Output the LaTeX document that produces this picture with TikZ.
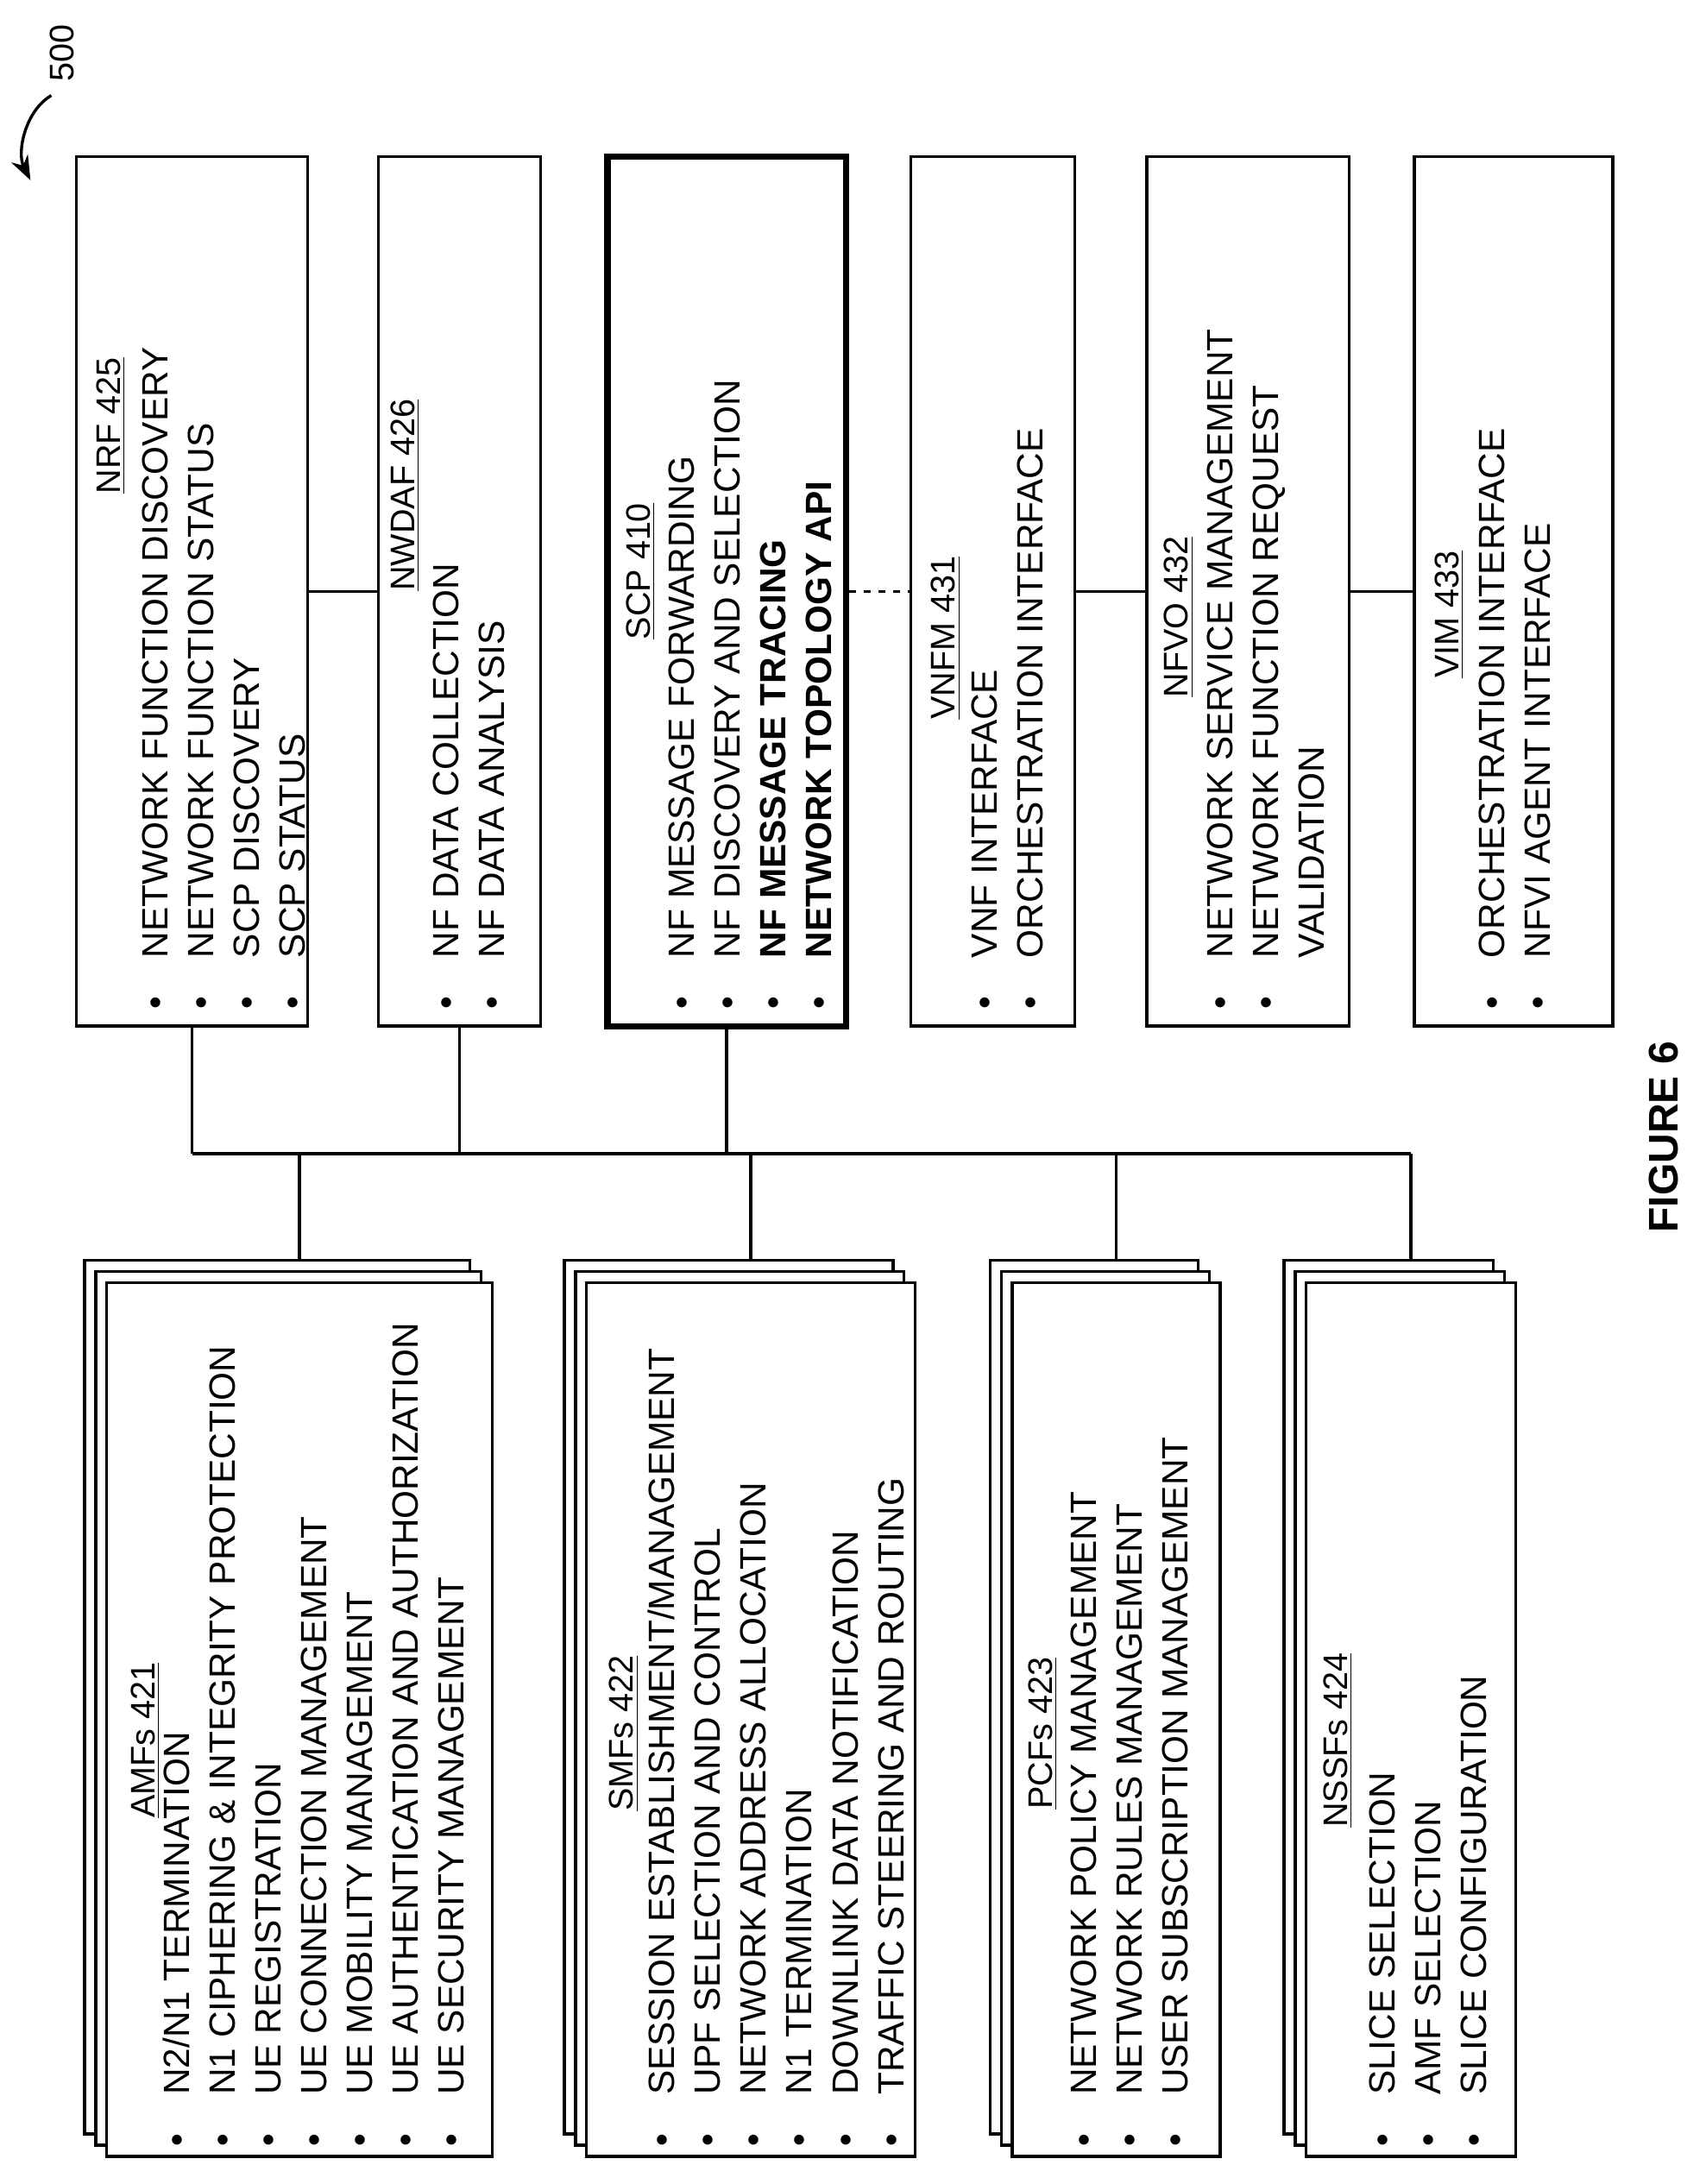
\documentclass[tikz,border=0pt]{standalone}
\usepackage{fontspec}
\setmainfont{Liberation Sans}
\usetikzlibrary{fit,arrows.meta}

\tikzstyle{box}=[draw, line width=1.2pt, fill=white, inner sep=0pt]
\tikzstyle{title}=[rotate=90, font=\fontsize{14}{18}\selectfont, inner sep=0pt]
\tikzstyle{items}=[rotate=90, anchor=north west, align=left, inner sep=0pt, font=\fontsize{15}{18.8}\selectfont]
\newcommand{\bu}{\makebox[21pt][l]{\textbullet}}
\newcommand{\ul}[1]{\underline{#1}}

\begin{document}
\begin{tikzpicture}[x=0.02cm, y=-0.02cm]
\useasboundingbox (0,0) rectangle (1230,1575);

% bus
\coordinate (bl) at (138.5,832);
\coordinate (br) at (1017.5,832);
\draw[line width=1.2pt] (bl) -- (br);

% top boxes
\node[box, fit={(55,113)(222,740)}] (nrf) {};
\node[box, fit={(273,113)(390,740)}] (nwdaf) {};
\node[box, line width=2.6pt, fit={(438,113)(610,740)}] (scp) {};
\node[box, fit={(657,113)(775,740)}] (vnfm) {};
\node[box, fit={(827,113)(973,740)}] (nfvo) {};
\node[box, fit={(1020,113)(1163,740)}] (vim) {};

\begin{scope}[line width=1.2pt]
       \draw (nrf) -- (nwdaf);
       \draw[dashed] (scp) -- (vnfm);
       \draw (vnfm) -- (nfvo);
       \draw (nfvo) -- (vim);
       \draw (nrf.south) -- (nrf.south |- bl);
       \draw (nwdaf.south) -- (nwdaf.south |- bl);
       \draw (scp.south) -- (scp.south |- bl);
       \draw (216,832) -- (216,925);
       \draw (541.5,832) -- (541.5,925);
       \draw (805,832) -- (805,925);
       \draw (1017.5,832) -- (1017.5,925);
\end{scope}

% stacked boxes
\foreach \n/\a/\b in {amf/77/355, smf/423/660, pcf/730/880, nssf/942/1093} {
       \node[box, fit={(\a-16,909)(\b-16,1539)}] (\n3) {};
       \node[box, fit={(\a-8,917)(\b-8,1547)}] (\n2) {};
       \node[box, fit={(\a,925)(\b,1555)}] (\n) {};
}

% titles
\node[title] (tnrf) at (80,307) {\ul{NRF 425}};
\node[title] (tnwdaf) at (292,357) {\ul{NWDAF 426}};
\node[title] (tscp) at (462,412) {\ul{SCP 410}};
\node[title] (tvnfm) at (682,460) {\ul{VNFM 431}};
\node[title] (tnfvo) at (850,445) {\ul{NFVO 432}};
\node[title] (tvim) at (1045,443) {\ul{VIM 433}};
\node[title] (tamf) at (105,1255) {\ul{AMFs 421}};
\node[title] (tsmf) at (450,1250) {\ul{SMFs 422}};
\node[title] (tpcf) at (752,1250) {\ul{PCFs 423}};
\node[title] (tnssf) at (965,1255) {\ul{NSSFs 424}};

% lists
\node[items] (lnrf) at (102,728) {\bu NETWORK FUNCTION DISCOVERY\\ \bu NETWORK FUNCTION STATUS\\ \bu SCP DISCOVERY\\ \bu SCP STATUS};
\node[items] (lnwdaf) at (312,728) {\bu NF DATA COLLECTION\\ \bu NF DATA ANALYSIS};
\node[items] (lscp) at (482,728) {\bu NF MESSAGE FORWARDING\\ \bu NF DISCOVERY AND SELECTION\\ \bu \textbf{NF MESSAGE TRACING}\\ \bu \textbf{NETWORK TOPOLOGY API}};
\node[items] (lvnfm) at (700,728) {\bu VNF INTERFACE\\ \bu ORCHESTRATION INTERFACE};
\node[items] (lnfvo) at (870,728) {\bu NETWORK SERVICE MANAGEMENT\\ \bu NETWORK FUNCTION REQUEST\\ \makebox[21pt]{}VALIDATION};
\node[items] (lvim) at (1066,728) {\bu ORCHESTRATION INTERFACE\\ \bu NFVI AGENT INTERFACE};
\node[items] (lamf) at (117,1548) {\bu N2/N1 TERMINATION\\ \bu N1 CIPHERING \& INTEGRITY PROTECTION\\ \bu UE REGISTRATION\\ \bu UE CONNECTION MANAGEMENT\\ \bu UE MOBILITY MANAGEMENT\\ \bu UE AUTHENTICATION AND AUTHORIZATION\\ \bu UE SECURITY MANAGEMENT};
\node[items] (lsmf) at (467,1548) {\bu SESSION ESTABLISHMENT/MANAGEMENT\\ \bu UPF SELECTION AND CONTROL\\ \bu NETWORK ADDRESS ALLOCATION\\ \bu N1 TERMINATION\\ \bu DOWNLINK DATA NOTIFICATION\\ \bu TRAFFIC STEERING AND ROUTING};
\node[items] (lpcf) at (772,1548) {\bu NETWORK POLICY MANAGEMENT\\ \bu NETWORK RULES MANAGEMENT\\ \bu USER SUBSCRIPTION MANAGEMENT};
\node[items] (lnssf) at (987,1548) {\bu SLICE SELECTION\\ \bu AMF SELECTION\\ \bu SLICE CONFIGURATION};

% reference numeral and caption
\node[title] (ref) at (45,38) {500};
\coordinate (arr) at (22,130);
\draw[line width=1.2pt, -{Stealth[length=10pt]}] (ref.west) ++(-8,10) .. controls (18,80) and (12,110) .. (arr);
\node[title, font=\bfseries\fontsize{17}{20}\selectfont] (fig) at (1200,820) {FIGURE 6};
\end{tikzpicture}
\end{document}
